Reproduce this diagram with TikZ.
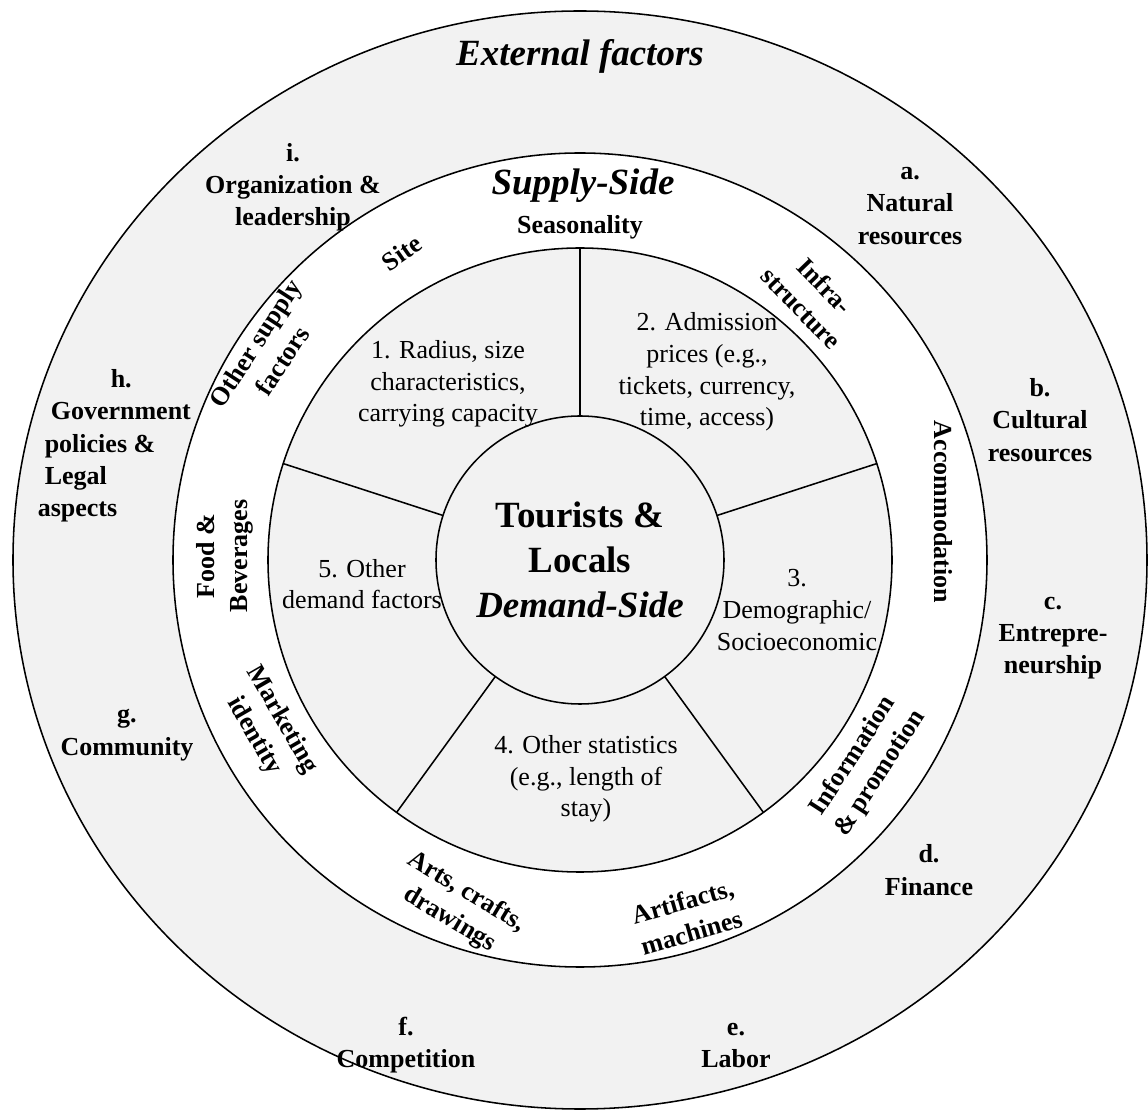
\documentclass[tikz,border=0pt]{standalone}
\usepackage{fontspec}
\setmainfont{Liberation Serif}
\definecolor{ringgray}{HTML}{F2F2F2}

\begin{document}
\begin{tikzpicture}[line width=1.1pt,
    band/.style={circle, draw, inner sep=0pt, outer sep=0pt},
    heading/.style={font=\fontsize{26.3}{32}\selectfont\bfseries\itshape, inner sep=0pt},
    factor/.style={font=\fontsize{18.5}{23}\selectfont\bfseries, align=center, inner sep=0pt},
    supply/.style={font=\fontsize{18.5}{23}\selectfont\bfseries, align=center, inner sep=0pt},
    demand/.style={font=\fontsize{18.5}{22.5}\selectfont, align=center, inner sep=0pt}]
    \useasboundingbox (-14.5,14) rectangle (14.2,-13.75);
    \draw[fill=ringgray] (0,0) ellipse [x radius=14.175, y radius=13.725];
    \node[band, fill=white, minimum size=20.35cm] (ring) at (0,0) {};
    \node[band, fill=ringgray, minimum size=15.6cm] (disc) at (0,0) {};
    \node[band, fill=ringgray, minimum size=7.2cm, align=center, font=\fontsize{26.3}{32}\selectfont\bfseries] (hub) at (0,0) {Tourists \&\\Locals\\\textit{Demand-Side}};
    \foreach \a in {90,18,-54,-126,162} \draw (hub.\a) -- (disc.\a);
    \node[heading] (external) at (0,12.6) {External factors};
    \node[factor] (natural) at (8.25,8.85) {a.\\Natural\\resources};
    \node[factor] (cultural) at (11.5,3.5) {b.\\Cultural\\resources};
    \node[factor] (entre) at (11.825,-1.95) {c.\\Entrepre-\\neurship};
    \node[factor] (finance) at (8.725,-7.75) {d.\\Finance};
    \node[factor] (labor) at (3.9,-12.13) {e.\\Labor};
    \node[factor] (competition) at (-4.35,-12.13) {f.\\Competition};
    \node[factor] (community) at (-11.325,-4.38) {g.\\Community};
    \node[factor, align=left, anchor=west] (government) at (-13.575,2.85) {\hspace*{1.825cm}h.\\\hspace*{0.325cm}Government\\\hspace*{0.175cm}policies \&\\\hspace*{0.175cm}Legal\\aspects};
    \node[factor] (organization) at (-7.175,9.32) {i.\\Organization \&\\leadership};
    \node[heading] (supplyside) at (0.075,9.36) {Supply-Side};
    \node[supply] (season) at (0,8.33) {Seasonality};
    \node[supply, rotate=35] (site) at (-4.45,7.675) {Site};
    \node[supply, rotate=57] (othersupply) at (-7.78,5.2) {Other supply\\factors};
    \node[supply, rotate=90] (food) at (-8.875,0.1) {Food \&\\Beverages};
    \node[supply, rotate=-60] (marketing) at (-7.8,-4.2) {Marketing\\identity};
    \node[supply, rotate=-31] (arts) at (-3.05,-8.65) {Arts, crafts,\\drawings};
    \node[supply, rotate=16] (artifacts) at (2.675,-8.925) {Artifacts,\\machines};
    \node[supply, rotate=57] (info) at (7.175,-5.125) {Information\\\& promotion};
    \node[supply, rotate=-90] (accom) at (9.075,1.2) {Accommodation};
    \node[supply, rotate=-46] (infra) at (5.825,6.575) {Infra-\\structure};
    \node[demand] (radius) at (-3.3,4.4) {1. Radius, size\\characteristics,\\carrying capacity};
    \node[demand] (prices) at (3.175,4.7) {2. Admission\\prices (e.g.,\\tickets, currency,\\time, access)};
    \node[demand] (demo) at (5.425,-1.25) {3.\\Demographic/\\Socioeconomic};
    \node[demand] (stats) at (0.15,-5.47) {4. Other statistics\\(e.g., length of\\stay)};
    \node[demand] (otherdemand) at (-5.45,-0.6) {5. Other\\demand factors};
\end{tikzpicture}
\end{document}
